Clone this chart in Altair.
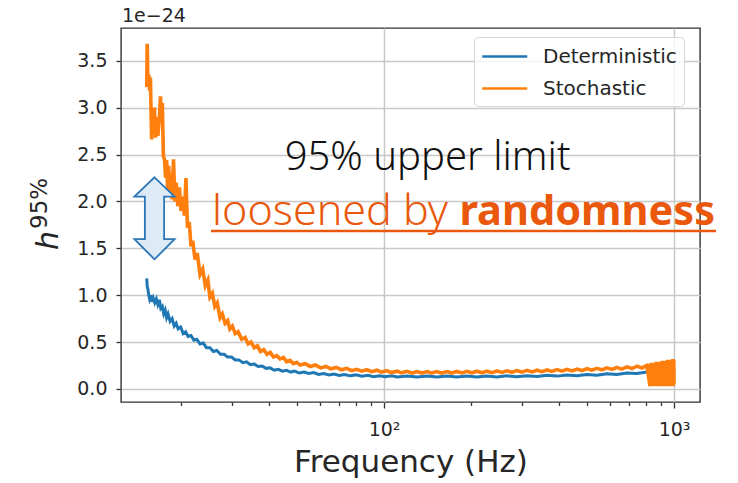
import altair as alt
import pandas as pd

# ---------------- data ----------------
series_names = ["Deterministic", "Stochastic"]
series_colors = ["#1f77b4", "#ff7f0e"]

det_freq = [15.2, 15.25, 15.35, 15.45, 15.55, 15.7, 15.85, 16.0, 16.2, 16.4, 16.6, 16.8,
            17.0, 17.2, 17.4, 17.6, 17.8, 18.0, 18.3, 18.6, 18.9, 19.2, 19.5, 19.9,
            20.3, 20.7, 21.1, 21.6, 22.1, 22.6, 23.2, 23.8, 24.4, 25.1, 25.8, 26.5,
            27.3, 28.1, 28.9, 29.8, 30.7, 31.6, 32.6, 33.6, 34.6, 35.7, 36.8, 38.0,
            39.2, 40.5, 41.8, 43.2, 44.6, 46.1, 47.6, 49.2, 51.0, 53.0, 55.0, 57.2,
            59.5, 62.0, 64.5, 67.2, 70.0, 73.0, 76.4, 80.0, 84.0, 88.0, 92.0, 96.5,
            101, 106, 111, 120, 130, 141, 152, 165, 178, 193, 209, 226, 245, 265,
            287, 311, 337, 365, 395, 427, 463, 501, 542, 587, 635, 688, 745, 806,
            873, 945, 1000]
det_val = [1.18, 1.10, 1.06, 1.00, 0.96, 1.00, 0.93, 0.97, 0.92, 0.96, 0.90, 0.95,
           0.86, 0.88, 0.80, 0.84, 0.76, 0.80, 0.72, 0.75, 0.67, 0.70, 0.64, 0.66,
           0.59, 0.61, 0.56, 0.57, 0.52, 0.53, 0.48, 0.49, 0.44, 0.44, 0.40, 0.41,
           0.37, 0.37, 0.34, 0.34, 0.31, 0.31, 0.28, 0.29, 0.26, 0.265, 0.24, 0.245,
           0.22, 0.225, 0.20, 0.21, 0.19, 0.20, 0.18, 0.19, 0.17, 0.18, 0.165, 0.175,
           0.155, 0.165, 0.15, 0.16, 0.145, 0.155, 0.14, 0.15, 0.135, 0.145, 0.13, 0.14,
           0.13, 0.14, 0.128, 0.138, 0.128, 0.138, 0.127, 0.137, 0.127, 0.137, 0.128, 0.138,
           0.128, 0.14, 0.13, 0.142, 0.133, 0.145, 0.137, 0.149, 0.141, 0.155, 0.147, 0.162,
           0.155, 0.171, 0.165, 0.181, 0.175, 0.19, 0.19]

sto_freq = [15.2, 15.25, 15.35, 15.45, 15.55, 15.65, 15.8, 15.9, 16.0, 16.15, 16.3, 16.45,
            16.6, 16.8, 16.95, 17.1, 17.2, 17.35, 17.5, 17.65, 17.8, 17.95, 18.1, 18.25,
            18.4, 18.6, 18.8, 19.0, 19.2, 19.45, 19.7, 19.95, 20.2, 20.5, 20.75, 21.0,
            21.3, 21.6, 21.9, 22.3, 22.7, 23.2, 23.7, 24.2, 24.7, 25.1, 25.6, 26.1,
            26.6, 27.2, 27.7, 28.3, 28.9, 29.4, 30.0, 30.7, 31.4, 32.3, 33.2, 34.0,
            34.8, 35.7, 36.6, 37.5, 38.5, 39.5, 40.5, 41.6, 42.7, 43.8, 45.0, 46.2,
            47.4, 48.7, 50.0, 51.3, 53.4, 55.7, 58.0, 60.5, 63.0, 65.6, 68.4, 71.3,
            74.3, 77.4, 80.5, 83.8, 87.2, 90.7, 94.4, 98.2, 102, 106, 111, 115,
            120, 125, 130, 135, 141, 146, 152, 158, 165, 171, 178, 186,
            193, 201, 209, 218, 226, 236, 245, 255, 265, 276, 287, 299,
            311, 324, 337, 350, 365, 379, 395, 411, 427, 445, 463, 481,
            501, 521, 542, 564, 587, 611, 635, 661, 688, 716, 745, 775,
            806, 826, 830, 834, 838, 842, 846, 850, 854, 858, 862, 866,
            870, 874, 878, 882, 886, 890, 894, 898, 902, 906, 910, 914,
            918, 922, 926, 930, 934, 938, 942, 946, 950, 954, 958, 962,
            966, 970, 974, 978, 982, 986, 990, 994, 998, 1000]
sto_val = [3.22, 3.68, 3.24, 3.35, 3.18, 3.32, 2.66, 2.95, 2.75, 3.00, 2.68, 2.90,
           2.70, 2.88, 3.12, 2.85, 3.05, 2.48, 2.45, 2.25, 2.44, 2.12, 2.38, 2.05,
           2.30, 2.02, 2.45, 2.00, 2.20, 1.95, 2.15, 1.90, 2.05, 1.85, 2.25, 1.72,
           1.78, 1.52, 1.58, 1.38, 1.45, 1.22, 1.28, 1.10, 1.16, 0.98, 1.02, 0.88,
           0.92, 0.76, 0.80, 0.70, 0.73, 0.64, 0.67, 0.59, 0.61, 0.53, 0.55, 0.48,
           0.50, 0.44, 0.46, 0.40, 0.42, 0.37, 0.39, 0.34, 0.355, 0.32, 0.335, 0.29,
           0.305, 0.27, 0.285, 0.255, 0.27, 0.24, 0.255, 0.225, 0.24, 0.215, 0.23, 0.205,
           0.22, 0.195, 0.21, 0.19, 0.205, 0.185, 0.2, 0.18, 0.195, 0.175, 0.19, 0.172,
           0.188, 0.17, 0.186, 0.17, 0.186, 0.17, 0.186, 0.17, 0.186, 0.17, 0.187, 0.171,
           0.188, 0.172, 0.189, 0.173, 0.19, 0.174, 0.192, 0.176, 0.194, 0.178, 0.196, 0.18,
           0.198, 0.182, 0.2, 0.184, 0.203, 0.187, 0.206, 0.19, 0.209, 0.193, 0.212, 0.196,
           0.216, 0.2, 0.22, 0.204, 0.225, 0.208, 0.23, 0.212, 0.236, 0.218, 0.243, 0.224,
           0.25, 0.03, 0.27, 0.03, 0.28, 0.03, 0.27, 0.03, 0.28, 0.03, 0.28, 0.03,
           0.29, 0.03, 0.28, 0.03, 0.29, 0.03, 0.29, 0.03, 0.29, 0.03, 0.30, 0.03,
           0.29, 0.03, 0.30, 0.03, 0.30, 0.03, 0.30, 0.03, 0.31, 0.03, 0.30, 0.03,
           0.31, 0.03, 0.31, 0.03, 0.31, 0.03, 0.32, 0.03, 0.31, 0.05]

x_ticks = [20, 30, 40, 50, 60, 70, 80, 90, 100, 200, 300, 400, 500, 600, 700, 800, 900, 1000]
y_ticks = [0.0, 0.5, 1.0, 1.5, 2.0, 2.5, 3.0, 3.5]
x_title = "Frequency (Hz)"
y_title_main = "h"
y_title_sup = "95%"
offset_label = "1e\u221224"
annot_line1 = "95% upper limit"
annot_line2a = "loosened by "
annot_line2b = "randomness"

# ---------------- build table ----------------
df = pd.concat([
    pd.DataFrame({"freq": det_freq, "h": det_val, "series": series_names[0]}),
    pd.DataFrame({"freq": sto_freq, "h": sto_val, "series": series_names[1]}),
], ignore_index=True)

FONT = "DejaVu Sans"
TXT = "#262626"
ORANGE_TXT = "#E9580C"
major = "datum.value == 100 || datum.value == 1000"

x_axis = alt.Axis(
    values=x_ticks,
    labelExpr="datum.value == 100 ? '10\u00b2' : (datum.value == 1000 ? '10\u00b3' : '')",
    tickSize={"condition": {"test": major, "value": 6}, "value": 3.5},
    gridOpacity={"condition": {"test": major, "value": 1}, "value": 0},
    grid=True, gridColor="#c8c8c8", gridWidth=1.5,
    domain=False, tickColor="#333333", tickWidth=1.3,
    labelFont=FONT, labelFontSize=19, labelColor=TXT, labelPadding=12,
    labelFlush=False, labelOverlap=False,
    title=x_title, titleFont=FONT, titleFontSize=31, titleFontWeight="normal",
    titleColor=TXT, titlePadding=8,
)
y_axis = alt.Axis(
    values=y_ticks, format=".1f",
    grid=True, gridColor="#c8c8c8", gridWidth=1.5,
    domain=False, tickSize=5, tickColor="#333333", tickWidth=1.3,
    labelFont=FONT, labelFontSize=19, labelColor=TXT, labelPadding=9,
    labelFlush=False, title=None,
)

# legend sample: a horizontal stroke from -r to 3r (r = sqrt(size)/2)
legend_symbol = "M-1,0L3,0"

x_enc = alt.X("freq:Q", scale=alt.Scale(type="log", domain=[12.39, 1229], nice=False), axis=x_axis)
y_enc = alt.Y("h:Q", scale=alt.Scale(domain=[-0.139, 3.849], nice=False, zero=False), axis=y_axis)
color_enc = alt.Color(
    "series:N",
    scale=alt.Scale(domain=series_names, range=series_colors),
    legend=alt.Legend(
        title=None, orient="none", legendX=353, legendY=9, direction="vertical",
        symbolType=legend_symbol, symbolSize=506, symbolStrokeWidth=2.5,
        labelFont=FONT, labelFontSize=20, labelColor=TXT, labelOffset=37,
        padding=7, cornerRadius=4, strokeColor="#d5d5d5",
        fillColor="rgba(255,255,255,0.8)", rowPadding=9, labelLimit=300,
    ),
)

base = alt.Chart(df)
det_line = base.transform_filter(alt.datum.series == series_names[0]).mark_line(
    strokeWidth=3.0, clip=True).encode(x=x_enc, y=y_enc, color=color_enc)
sto_line = base.transform_filter(alt.datum.series == series_names[1]).mark_line(
    strokeWidth=3.6, clip=True).encode(x=x_enc, y=y_enc, color=color_enc)

arrow_path = ("M0,-1L0.49,-0.53L0.235,-0.53L0.235,0.51L0.49,0.51L0,1L-0.49,0.51"
              "L-0.235,0.51L-0.235,-0.53L-0.49,-0.53Z")
arrow = alt.Chart(pd.DataFrame({"k": [0]})).mark_point(
    shape=arrow_path, size=6724, filled=True, fill="#DDEBF7", fillOpacity=1,
    stroke="#2E75B6", strokeWidth=1.8, opacity=1,
).encode(x=alt.value(33.5), y=alt.value(190.3))


def text_layer(label, **kw):
    return alt.Chart(pd.DataFrame({"label": [label]})).mark_text(**kw).encode(text="label:N")


t1 = text_layer(annot_line1, font="Noto Sans", fontSize=40, fontWeight=300, color="#111111",
                align="center", baseline="alphabetic").encode(
    x=alt.value(306.6), y=alt.value(142))
t2 = text_layer(annot_line2a, font="Noto Sans", fontSize=43, fontWeight=300, color=ORANGE_TXT,
                align="left", baseline="alphabetic").encode(
    x=alt.value(91), y=alt.value(197))
t3 = text_layer(annot_line2b, font="Noto Sans", fontSize=41.5, fontWeight="bold",
                color=ORANGE_TXT, align="right", baseline="alphabetic").encode(
    x=alt.value(594), y=alt.value(197))
underline = alt.Chart(pd.DataFrame({"k": [0]})).mark_rule(
    color=ORANGE_TXT, strokeWidth=2.5).encode(
    x=alt.value(90), x2=alt.value(595), y=alt.value(203))

offset_t = text_layer(offset_label, font=FONT, fontSize=19, color=TXT,
                      align="left", baseline="alphabetic").encode(
    x=alt.value(1), y=alt.value(-6))
yl_h = text_layer(y_title_main, font=FONT, fontSize=30, fontStyle="italic", color=TXT,
                  align="left", baseline="alphabetic", angle=270).encode(
    x=alt.value(-63), y=alt.value(222))
yl_sup = text_layer(y_title_sup, font=FONT, fontSize=23, color=TXT,
                    align="left", baseline="alphabetic", angle=270).encode(
    x=alt.value(-74), y=alt.value(201))

chart = alt.layer(det_line, sto_line, arrow, t1, t2, t3, underline, offset_t, yl_h, yl_sup).properties(
    width=579, height=374,
    autosize=alt.AutoSizeParams(type="none"),
    padding={"left": 121, "top": 28, "right": 38, "bottom": 81},
    background="white",
).configure_view(stroke="#333333", strokeWidth=1.4)

chart.save("out.html", embed_options={"renderer": "svg", "actions": False})
